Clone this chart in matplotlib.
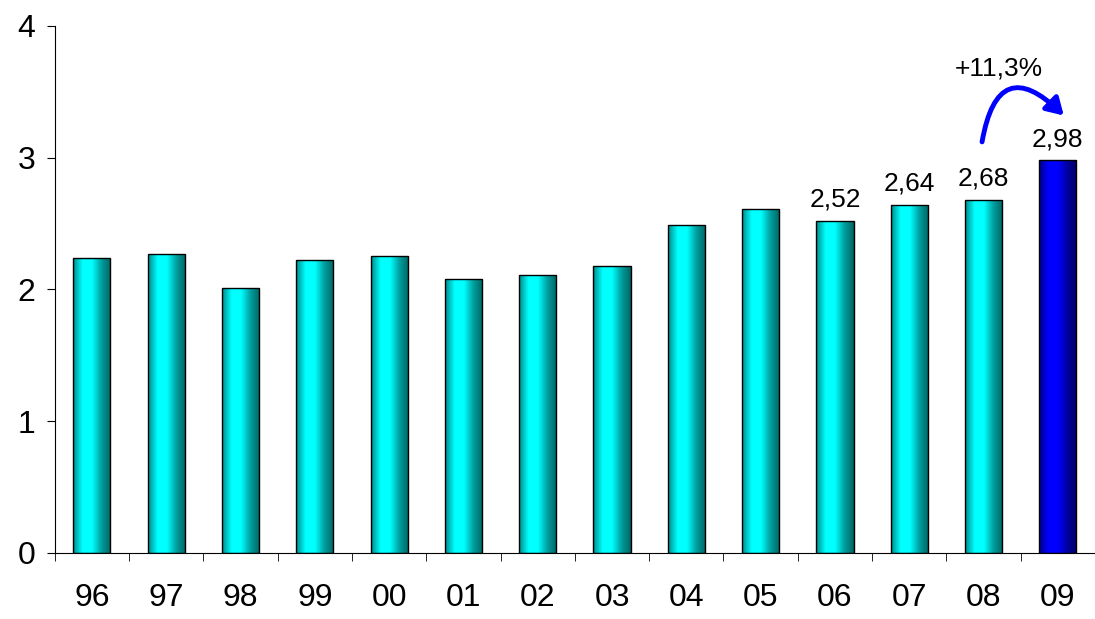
import numpy as np
import matplotlib.pyplot as plt
from matplotlib.patches import FancyArrowPatch
from matplotlib.colors import LinearSegmentedColormap

plt.rcParams['font.family'] = ['Liberation Sans', 'DejaVu Sans']

years = ['96', '97', '98', '99', '00', '01', '02', '03', '04', '05', '06', '07', '08', '09']
values = [2.24, 2.27, 2.01, 2.22, 2.25, 2.08, 2.11, 2.18, 2.49, 2.61, 2.52, 2.64, 2.68, 2.98]
labelled = {'06': '2,52', '07': '2,64', '08': '2,68', '09': '2,98'}

fig = plt.figure(figsize=(10.95, 6.19), dpi=100)
ax = fig.add_axes([0.050, 0.107, 0.950, 0.851])

cyan = LinearSegmentedColormap.from_list('c', ['#008c8c', '#00ffff', '#00ffff', '#00a0a0', '#006666'])
blue = LinearSegmentedColormap.from_list('b', ['#00008c', '#0000ff', '#0000ff', '#0000a0', '#000066'])
grad = np.linspace(0, 1, 64).reshape(1, -1)

x = np.arange(len(years))
w = 0.5
for i, (yr, v) in enumerate(zip(years, values)):
    cmap = blue if yr == '09' else cyan
    bar = ax.bar(i, v, width=w, facecolor='none', edgecolor='black', linewidth=1, zorder=3)[0]
    im = ax.imshow(grad, cmap=cmap, aspect='auto', extent=[i - w / 2, i + w / 2, 0, v], zorder=2)
    im.set_clip_path(bar)
    if yr in labelled:
        ax.text(i, v + 0.07, labelled[yr], ha='center', va='bottom', fontsize=19)

arrow = FancyArrowPatch((11.98, 3.12), (13.08, 3.32), connectionstyle='arc3,rad=-0.95',
                        arrowstyle='-|>,head_length=10,head_width=6', color='blue',
                        linewidth=3.5, shrinkA=0, shrinkB=0, zorder=4)
ax.add_patch(arrow)
ax.text(12.2, 3.68, '+11,3%', ha='center', va='center', fontsize=19)

ax.set_xlim(-0.49, 13.37)
ax.set_ylim(0, 4)
ax.set_yticks([0, 1, 2, 3, 4])
ax.set_xticks(x)
ax.set_xticklabels(years)
ax.set_xticks(np.arange(-0.5, 13.6, 1), minor=True)
ax.tick_params(axis='x', which='major', length=0, pad=22, labelsize=23)
ax.tick_params(axis='x', which='minor', length=6, direction='out')
ax.tick_params(axis='y', labelsize=23, direction='out', length=6, pad=8)
for s in ['top', 'right']:
    ax.spines[s].set_visible(False)

fig.savefig('out.png')
